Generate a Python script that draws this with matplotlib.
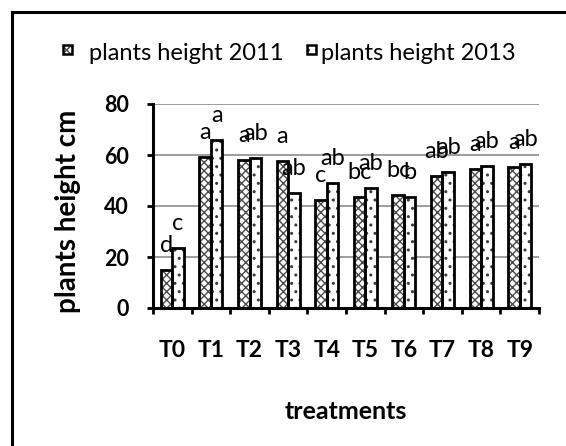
import matplotlib
matplotlib.use("Agg")
import matplotlib.pyplot as plt
from matplotlib.patches import Rectangle
from matplotlib.lines import Line2D
import numpy as np

plt.rcParams['font.family'] = ['Lato', 'DejaVu Sans']
plt.rcParams['hatch.linewidth'] = 1.0

categories = ["T0", "T1", "T2", "T3", "T4", "T5", "T6", "T7", "T8", "T9"]
h2011 = [15.0, 59.3, 58.0, 57.6, 42.4, 43.4, 44.4, 51.6, 54.4, 55.2]
h2013 = [23.5, 65.9, 58.9, 45.2, 49.1, 47.0, 43.5, 53.5, 55.5, 56.4]
let2011 = ["d", "a", "a", "a", "c", "bc", "bc", "ab", "a", "a"]
let2013 = ["c", "a", "ab", "ab", "ab", "ab", "b", "ab", "ab", "ab"]
series_names = ["plants height 2011", "plants height 2013"]
yticks = [0, 20, 40, 60, 80]

W, H = 566, 446
fig = plt.figure(figsize=(W / 100, H / 100), dpi=100)
ax = fig.add_axes([153 / W, 1 - 308 / H, (539 - 153) / W, (308 - 104) / H])

HATCH1, HCOL1 = "xxxx", "#4a4a4a"
HATCH2, HCOL2 = "..", "#3a3a3a"

x = np.arange(len(categories))
bw = 0.30
# hatched fills
ax.bar(x - bw / 2, h2011, bw, color="white", edgecolor=HCOL1, hatch=HATCH1, linewidth=0, zorder=2)
ax.bar(x + bw / 2, h2013, bw, color="white", edgecolor=HCOL2, hatch=HATCH2, linewidth=0, zorder=2)
# black outlines
ax.bar(x - bw / 2, h2011, bw, color="none", edgecolor="black", linewidth=2.0, zorder=3)
ax.bar(x + bw / 2, h2013, bw, color="none", edgecolor="black", linewidth=2.0, zorder=3)

for xi, v, t in zip(x - bw / 2, h2011, let2011):
    ax.annotate(t, (xi, v), xytext=(0, 13), textcoords="offset points",
                ha="center", va="baseline", fontsize=17, zorder=4)
for xi, v, t in zip(x + bw / 2, h2013, let2013):
    ax.annotate(t, (xi, v), xytext=(0, 13), textcoords="offset points",
                ha="center", va="baseline", fontsize=17, zorder=4)

ax.set_xlim(-0.5, len(categories) - 0.5)
ax.set_ylim(0, 80)
ax.set_yticks(yticks)
ax.set_yticklabels([str(v) for v in yticks], fontsize=15.5, fontweight="bold")
ax.set_xticks(x)
ax.set_xticklabels(categories, fontsize=16.5, fontweight="bold")
ax.set_xticks(np.arange(-0.5, len(categories), 1.0), minor=True)
ax.tick_params(axis="x", which="major", length=0, pad=23)
ax.tick_params(axis="x", which="minor", length=4.5, width=2, direction="out")
ax.tick_params(axis="y", which="major", length=4.5, width=2, direction="out", pad=13)

ax.grid(axis="y", color="#8c8c8c", linewidth=1.2, zorder=0)
ax.set_axisbelow(True)
for s in ["top", "right"]:
    ax.spines[s].set_visible(False)
for s in ["left", "bottom"]:
    ax.spines[s].set_linewidth(2.2)
    ax.spines[s].set_zorder(5)

# axis titles
fig.text(68 / W, 1 - 211 / H, "plants height cm", rotation=90, ha="center", va="center",
         fontsize=20, fontweight="bold")
fig.text(346 / W, 1 - 419 / H, "treatments", ha="center", va="baseline",
         fontsize=18, fontweight="bold")

# legend (manual)
def legend_patch(px, hatch, hcol):
    r1 = Rectangle((px / W, 1 - 54 / H), 9 / W, 9 / H, transform=fig.transFigure,
                   facecolor="white", edgecolor=hcol, hatch=hatch, linewidth=0)
    r2 = Rectangle((px / W, 1 - 54 / H), 9 / W, 9 / H, transform=fig.transFigure,
                   facecolor="none", edgecolor="black", linewidth=1.8)
    fig.add_artist(r1)
    fig.add_artist(r2)

legend_patch(63, HATCH1, HCOL1)
legend_patch(307, HATCH2, HCOL2)
fig.text(89 / W, 1 - 60 / H, series_names[0], ha="left", va="baseline", fontsize=17)
fig.text(321 / W, 1 - 60 / H, series_names[1], ha="left", va="baseline", fontsize=17)

# outer frame (top and left visible)
fig.add_artist(Line2D([12 / W, 1.0], [1 - 12 / H, 1 - 12 / H], transform=fig.transFigure,
                      color="black", linewidth=2.2))
fig.add_artist(Line2D([12 / W, 12 / W], [1 - 12 / H, 0], transform=fig.transFigure,
                      color="black", linewidth=2.2))

fig.savefig("out.png", dpi=100)
